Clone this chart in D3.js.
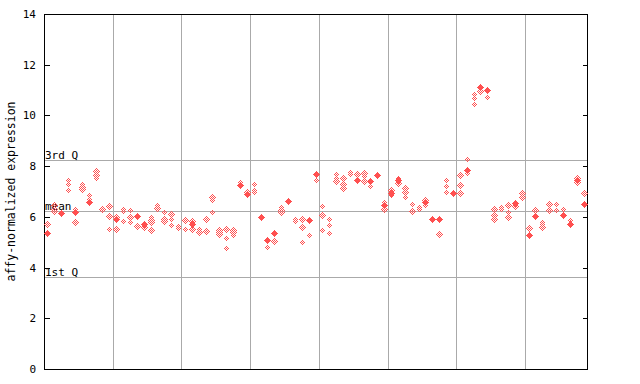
<!DOCTYPE html>
<html>
<head>
<meta charset="utf-8">
<script src="https://cdn.jsdelivr.net/npm/d3@7"></script>
<style>
	body { margin: 0; background: #fff; }
	svg text { font-family: "DejaVu Sans Mono", monospace; font-size: 11px; fill: #000; }
</style>
</head>
<body>
<div id="chartDiv"></div>
<script>
// open diamonds per sample (several per column)
var hollowVals = [
	[5.71], [6.45, 6.32, 6.22], [], [7.45, 7.3, 7.05], [6.32, 5.78],
	[7.31, 7.19, 7.1], [6.85, 6.72], [7.81, 7.66, 7.54], [6.32, 6.26], [6.41, 6.02, 5.51],
	[5.98, 5.52], [6.32, 6.23, 5.82], [6.26, 5.98, 5.81], [5.63], [5.6, 5.56],
	[5.98, 5.88, 5.8, 5.48], [6.45, 6.35], [6.19, 5.93, 5.82], [6.12, 5.93, 5.67], [5.64, 5.56],
	[5.86, 5.51], [5.84, 5.51], [5.51, 5.42], [5.9, 5.43], [6.8, 6.68, 6.19],
	[5.49, 5.4, 5.31], [5.51, 5.15, 4.76], [5.48, 5.39, 5.28], [7.39], [7.0],
	[7.29, 7.06, 6.97], [], [4.82], [5.04], [6.39, 6.27, 6.19],
	[6.68], [5.93, 5.85], [5.93, 5.59, 5.0], [5.3], [7.44],
	[6.42, 6.06, 5.48], [5.9, 5.67, 5.35], [7.69, 7.53, 7.4], [7.52, 7.29, 7.12], [7.77, 7.68],
	[7.69], [7.72, 7.62, 7.4], [7.2], [], [6.6, 6.3],
	[7.06, 6.85], [7.52, 7.35], [7.14, 6.98, 6.77], [6.52, 6.22], [6.39, 6.3],
	[6.66, 6.45], [], [5.31], [7.44, 7.22, 6.97], [],
	[7.64, 7.24, 6.93], [8.27, 7.9, 7.74], [10.83, 10.69, 10.44], [10.95], [10.71],
	[6.3, 6.06, 5.9], [6.4, 6.32], [6.45, 6.19, 5.98], [6.44], [6.93, 6.79],
	[5.55], [6.27], [5.81, 5.71, 5.59], [6.49, 6.26], [6.49, 6.26],
	[6.3], [5.88], [7.55, 7.37], [6.93]
];

// solid diamond per sample (null = none)
var filledVals = [
	5.37, null, 6.16, null, 6.2, null, 6.58, null, null, null,
	5.9, null, null, 6.05, 5.71, null, null, null, null, null,
	null, 5.71, null, null, null, null, null, null, 7.27, 6.9,
	null, 5.99, 5.1, 5.36, null, 6.62, null, null, 5.88, 7.69,
	null, null, null, null, null, 7.45, null, 7.43, 7.65, 6.45,
	6.93, 7.44, null, null, null, 6.58, 5.91, 5.91, null, 6.95,
	null, 7.83, null, 11.13, 11.01, null, null, null, 6.56, null,
	5.28, 6.03, null, null, null, 6.09, 5.72, 7.47, 6.52
];

// samples per group (vertical separators)
var groupSizes = [10, 10, 10, 10, 10, 10, 10, 9];

var yTicks = [0, 2, 4, 6, 8, 10, 12, 14];

var refLines = [
	{label: "3rd Q", value: 8.23},
	{label: "mean", value: 6.23},
	{label: "1st Q", value: 3.62}
];

var yTitle = "affy-normalized expression";

var W = 640, H = 384;
var pL = 44, pR = 587, pT = 14, pB = 369;
var red = "#ff5050";

var n = hollowVals.length;
var x = d3.scaleLinear().domain([-0.5, n - 0.5]).range([pL, pR]);
var y = d3.scaleLinear().domain([0, 14]).range([pB, pT]);

var svg = d3.select("#chartDiv").append("svg")
	.attr("width", W).attr("height", H);

var defs = svg.append("defs");
var pat = defs.append("pattern")
	.attr("id", "checker")
	.attr("patternUnits", "userSpaceOnUse")
	.attr("width", 2).attr("height", 2);
pat.append("rect").attr("x", 0).attr("y", 0).attr("width", 1).attr("height", 1).attr("fill", red);
pat.append("rect").attr("x", 1).attr("y", 1).attr("width", 1).attr("height", 1).attr("fill", red);

// group separators
var bounds = [];
var acc = 0;
for (var i = 0; i < groupSizes.length - 1; i++) {
	acc += groupSizes[i];
	bounds.push(acc - 0.5);
}
svg.append("g").selectAll("line")
	.data(bounds).enter().append("line")
	.attr("x1", function(d) { return Math.round(x(d)) + 0.5; })
	.attr("x2", function(d) { return Math.round(x(d)) + 0.5; })
	.attr("y1", pT).attr("y2", pB)
	.attr("stroke", "#aaaaaa").attr("shape-rendering", "crispEdges");

// quartile / mean lines
var ref = svg.append("g");
ref.selectAll("line")
	.data(refLines).enter().append("line")
	.attr("x1", pL).attr("x2", pR)
	.attr("y1", function(d) { return Math.round(y(d.value)) + 0.5; })
	.attr("y2", function(d) { return Math.round(y(d.value)) + 0.5; })
	.attr("stroke", "#aaaaaa").attr("shape-rendering", "crispEdges");
ref.selectAll("text")
	.data(refLines).enter().append("text")
	.attr("x", pL + 1)
	.attr("y", function(d) { return Math.round(y(d.value)) - 1; })
	.text(function(d) { return d.label; });

// left and right axes, ticks pointing inward
var yAxisL = d3.axisRight(y).tickValues(yTicks).tickSize(5).tickFormat("");
svg.append("g").attr("transform", "translate(" + (pL + 0.5) + ",0)")
	.call(yAxisL)
	.call(function(g) { g.select(".domain").remove(); })
	.selectAll("line").attr("stroke", "#000").attr("shape-rendering", "crispEdges");

var yAxisR = d3.axisLeft(y).tickValues(yTicks).tickSize(5).tickFormat("");
svg.append("g").attr("transform", "translate(" + (pR + 0.5) + ",0)")
	.call(yAxisR)
	.call(function(g) { g.select(".domain").remove(); })
	.selectAll("line").attr("stroke", "#000").attr("shape-rendering", "crispEdges");

svg.append("g").selectAll("text")
	.data(yTicks).enter().append("text")
	.attr("x", 36)
	.attr("y", function(d) { return y(d) + 4; })
	.attr("text-anchor", "end")
	.text(function(d) { return d; });

// frame
svg.append("rect")
	.attr("x", pL + 0.5).attr("y", pT + 0.5)
	.attr("width", pR - pL).attr("height", pB - pT)
	.attr("fill", "none").attr("stroke", "#000")
	.attr("shape-rendering", "crispEdges");

svg.append("text")
	.attr("transform", "translate(15," + ((pT + pB) / 2) + ") rotate(-90)")
	.attr("text-anchor", "middle")
	.style("font-size", "11.5px")
	.text(yTitle);

// points
var hollowPts = [];
hollowVals.forEach(function(arr, i) {
	arr.forEach(function(v) { hollowPts.push({i: i, v: v}); });
});
var filledPts = [];
filledVals.forEach(function(v, i) {
	if (v !== null) filledPts.push({i: i, v: v});
});

function diamond(d, r) {
	var cx = Math.round(x(d.i)) + 0.5, cy = Math.round(y(d.v)) + 0.5;
	return "M" + cx + "," + (cy - r) + "L" + (cx + r) + "," + cy +
		"L" + cx + "," + (cy + r) + "L" + (cx - r) + "," + cy + "Z";
}

svg.append("g").selectAll("path")
	.data(hollowPts).enter().append("path")
	.attr("d", function(d) { return diamond(d, 3.5); })
	.attr("fill", "url(#checker)")
	.attr("shape-rendering", "crispEdges");

svg.append("g").selectAll("path")
	.data(filledPts).enter().append("path")
	.attr("d", function(d) { return diamond(d, 3.5); })
	.attr("fill", red)
	.attr("shape-rendering", "crispEdges");
</script>
</body>
</html>
